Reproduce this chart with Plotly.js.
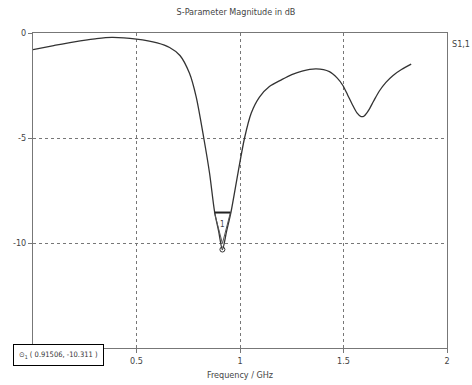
<!DOCTYPE html>
<html>
<head>
<meta charset="utf-8">
<script src="https://cdn.plot.ly/plotly-3.0.1.min.js"></script>
<style>html,body{margin:0;padding:0;background:#fff;}#chart{width:472px;height:385px;}</style>
</head>
<body>
<div id="chart"></div>
<script>
// Frequency in GHz
const freq = [0, 0.1, 0.2, 0.3, 0.38, 0.5, 0.6, 0.66, 0.71, 0.756, 0.788, 0.825, 0.853, 0.877, 0.897, 0.91506, 0.935, 0.957, 0.99, 1.022, 1.054, 1.094, 1.142, 1.2, 1.25, 1.3, 1.368, 1.432, 1.47, 1.497, 1.52, 1.545, 1.565, 1.585, 1.6, 1.62, 1.645, 1.674, 1.705, 1.738, 1.78, 1.827];
// |S1,1| in dB
const s11 = [-0.79, -0.6, -0.42, -0.28, -0.21, -0.29, -0.47, -0.69, -1.07, -1.92, -3.03, -5.0, -6.68, -8.5, -9.45, -10.311, -9.45, -8.5, -6.68, -5.0, -3.82, -3.05, -2.55, -2.23, -1.98, -1.81, -1.71, -1.84, -2.15, -2.5, -2.95, -3.45, -3.8, -3.98, -3.95, -3.7, -3.25, -2.75, -2.35, -2.03, -1.74, -1.48];
const markerF = [0.91506];
const markerDb = [-10.311];
const xTicks = [0.5, 1, 1.5, 2];
const yTicks = [-10, -5, 0];

const font = {family: 'DejaVu Sans Condensed, Liberation Sans Narrow, Liberation Sans, sans-serif', size: 9, color: '#444'};

const traces = [
  {x: freq, y: s11, type: 'scatter', mode: 'lines', line: {color: '#333', width: 1.3, shape: 'spline', smoothing: 0.8}, hoverinfo: 'none'},
  {x: markerF, y: markerDb, type: 'scatter', mode: 'markers',
   marker: {symbol: 'circle-open', size: 5, color: '#333', line: {width: 1, color: '#333'}}, hoverinfo: 'none'}
];

const layout = {
  width: 472, height: 385,
  margin: {l: 33, r: 25, t: 33, b: 37},
  paper_bgcolor: '#fff', plot_bgcolor: '#fff',
  showlegend: false,
  font: font,
  title: {text: 'S-Parameter Magnitude in dB', x: 0.5, xanchor: 'center', y: 0.968, yanchor: 'middle', font: {family: font.family, size: 9, color: '#444'}},
  xaxis: {
    range: [0, 2], tickvals: xTicks, ticktext: xTicks.map(String),
    showgrid: true, gridcolor: '#777', griddash: 'dot', gridwidth: 1,
    zeroline: false, showline: true, mirror: true, linecolor: '#777', linewidth: 1,
    ticks: 'outside', ticklen: 4, tickcolor: '#777',
    tickfont: font,
    title: {text: 'Frequency / GHz', font: font, standoff: 6}
  },
  yaxis: {
    range: [-15, 0], tickvals: yTicks, ticktext: yTicks.map(String),
    showgrid: true, gridcolor: '#777', griddash: 'dot', gridwidth: 1,
    zeroline: false, showline: true, mirror: true, linecolor: '#777', linewidth: 1,
    ticks: 'outside', ticklen: 4, tickcolor: '#777',
    tickfont: font
  },
  shapes: [
    {type: 'path', xref: 'x', yref: 'y', xsizemode: 'pixel', ysizemode: 'pixel',
     xanchor: markerF[0], yanchor: markerDb[0],
     path: 'M -8,37 L 8,37 L 0,6 Z', line: {color: '#555', width: 1}},
    {type: 'line', xref: 'x', yref: 'y', xsizemode: 'pixel', ysizemode: 'pixel',
     xanchor: markerF[0], yanchor: markerDb[0],
     x0: -8, x1: 8, y0: 37, y1: 37, line: {color: '#222', width: 2}}
  ],
  annotations: [
    {x: markerF[0], y: markerDb[0], xref: 'x', yref: 'y', text: '1', showarrow: false,
     yshift: 25, font: {family: font.family, size: 8, color: '#444'}},
    {x: 1.007, y: 0.965, xref: 'paper', yref: 'paper', text: 'S1,1', showarrow: false,
     xanchor: 'left', yanchor: 'middle', font: font},
    {x: -0.048, y: 0.0127, xref: 'paper', yref: 'paper', xanchor: 'left', yanchor: 'top',
     text: '⊙<sub>1</sub> ( ' + markerF[0] + ', ' + markerDb[0] + ' )', showarrow: false,
     align: 'left', bgcolor: '#fff', bordercolor: '#000', borderwidth: 1, borderpad: 5,
     font: {family: font.family, size: 7.5, color: '#333'}}
  ]
};

Plotly.newPlot('chart', traces, layout, {staticPlot: true, displayModeBar: false});
</script>
</body>
</html>
